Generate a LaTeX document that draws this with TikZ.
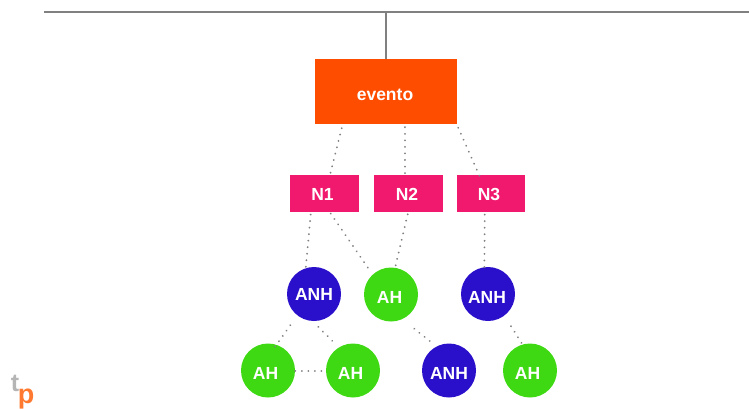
\documentclass[tikz,border=0pt]{standalone}
\usepackage{fontspec}
\setmainfont{Liberation Sans}
\definecolor{evorange}{HTML}{FF4D00}
\definecolor{npink}{HTML}{F0196E}
\definecolor{anhblue}{HTML}{2A0FCB}
\definecolor{ahgreen}{HTML}{3FD914}
\definecolor{linegray}{HTML}{808080}
\definecolor{logot}{HTML}{B5B5B5}
\definecolor{logop}{HTML}{FF7A30}
\tikzset{
  lab/.style={text=white,font=\fontsize{17.5}{20}\selectfont\bfseries,inner sep=0pt},
  evbox/.style={fill=evorange,minimum width=142pt,minimum height=65pt,inner sep=0pt},
  nbox/.style={fill=npink,minimum width=68.4pt,minimum height=36.7pt,inner sep=0pt},
  anh/.style={circle,fill=anhblue,minimum size=54pt,inner sep=0pt},
  ah/.style={circle,fill=ahgreen,minimum size=54pt,inner sep=0pt},
  rule/.style={draw=linegray,line width=1.6pt},
  dots/.style={draw=linegray,line width=2pt,line cap=round,dash pattern=on 0.05pt off 6.5pt}
}
\begin{document}
\begin{tikzpicture}[x=1pt,y=-1pt]
\useasboundingbox (0,0) rectangle (749,408);
\coordinate (lineL) at (44,12);
\coordinate (lineR) at (749,12);
\coordinate (lineT) at (386,12);
\draw[rule] (lineL) -- (lineR);
\node[evbox] (ev) at (386,91.5) {};
\draw[rule] (lineT) -- (lineT |- ev.north);
\node[nbox] (n1) at (324.5,193.4) {};
\node[nbox] (n2) at (408.5,193.4) {};
\node[nbox] (n3) at (490.8,193.4) {};
\node[anh] (a1) at (314,294) {};
\node[ah]  (g1) at (391,294.5) {};
\node[anh] (a2) at (488,294) {};
\node[ah]  (g2) at (268,370.5) {};
\node[ah]  (g3) at (353,370.5) {};
\node[anh] (a3) at (449,370.5) {};
\node[ah]  (g4) at (530,370.5) {};
% labels
\node[lab] (tev) at (385,95) {evento};
\node[lab] (tn1) at (322.5,194.5) {N1};
\node[lab] (tn2) at (407,194.5) {N2};
\node[lab] (tn3) at (489,194.5) {N3};
\node[lab] (ta1) at (314,294) {ANH};
\node[lab] (tg1) at (389.5,297) {AH};
\node[lab] (ta2) at (487,297) {ANH};
\node[lab] (tg2) at (265.5,373.5) {AH};
\node[lab] (tg3) at (350.5,373.5) {AH};
\node[lab] (ta3) at (449,373) {ANH};
\node[lab] (tg4) at (527.5,373.5) {AH};
% connectors, offsets relative to the named nodes
\draw[dots] ([xshift=-44.3pt,yshift=-4pt]ev.south) -- ([xshift=5.5pt]n1.north);
\draw[dots] ([xshift=19pt,yshift=-3pt]ev.south) -- ([xshift=-3.5pt]n2.north);
\draw[dots] ([xshift=1pt,yshift=-3.5pt]ev.south east) -- ([xshift=-9.8pt,yshift=-4.5pt]n3.north);
\draw[dots] ([xshift=-13.8pt,yshift=-2.6pt]n1.south) -- ([xshift=-8.3pt,yshift=-1.7pt]a1.north);
\draw[dots] ([xshift=6.2pt,yshift=-1.6pt]n1.south) -- ([xshift=-21pt,yshift=-3.5pt]g1.north);
\draw[dots] ([xshift=-0.8pt,yshift=-2.3pt]n2.south) -- ([xshift=4pt,yshift=-0.8pt]g1.north);
\draw[dots] ([xshift=-6.1pt,yshift=-2.6pt]n3.south) -- ([xshift=-3.7pt,yshift=-4.7pt]a2.north);
\draw[dots] ([xshift=-23.7pt,yshift=-4pt]a1.south) -- ([xshift=7pt,yshift=-3.5pt]g2.north);
\draw[dots] ([xshift=4.3pt,yshift=-5.7pt]a1.south) -- ([xshift=-19.7pt,yshift=1.5pt]g3.north);
\draw[dots] (g2.east) -- (g3.west);
\draw[dots] ([xshift=23.3pt,yshift=-7pt]g1.south) -- ([xshift=-18.3pt,yshift=1.5pt]a3.north);
\draw[dots] ([xshift=23pt,yshift=-5pt]a2.south) -- ([xshift=-6.7pt,yshift=-2.5pt]g4.north);
% logo
\node[text=logot,font=\fontsize{25}{26}\selectfont\bfseries,inner sep=0pt] (lt) at (15,383) {t};
\node[text=logop,font=\fontsize{27}{28}\selectfont\bfseries,inner sep=0pt] (lp) at (26,399.5) {p};
\end{tikzpicture}
\end{document}
